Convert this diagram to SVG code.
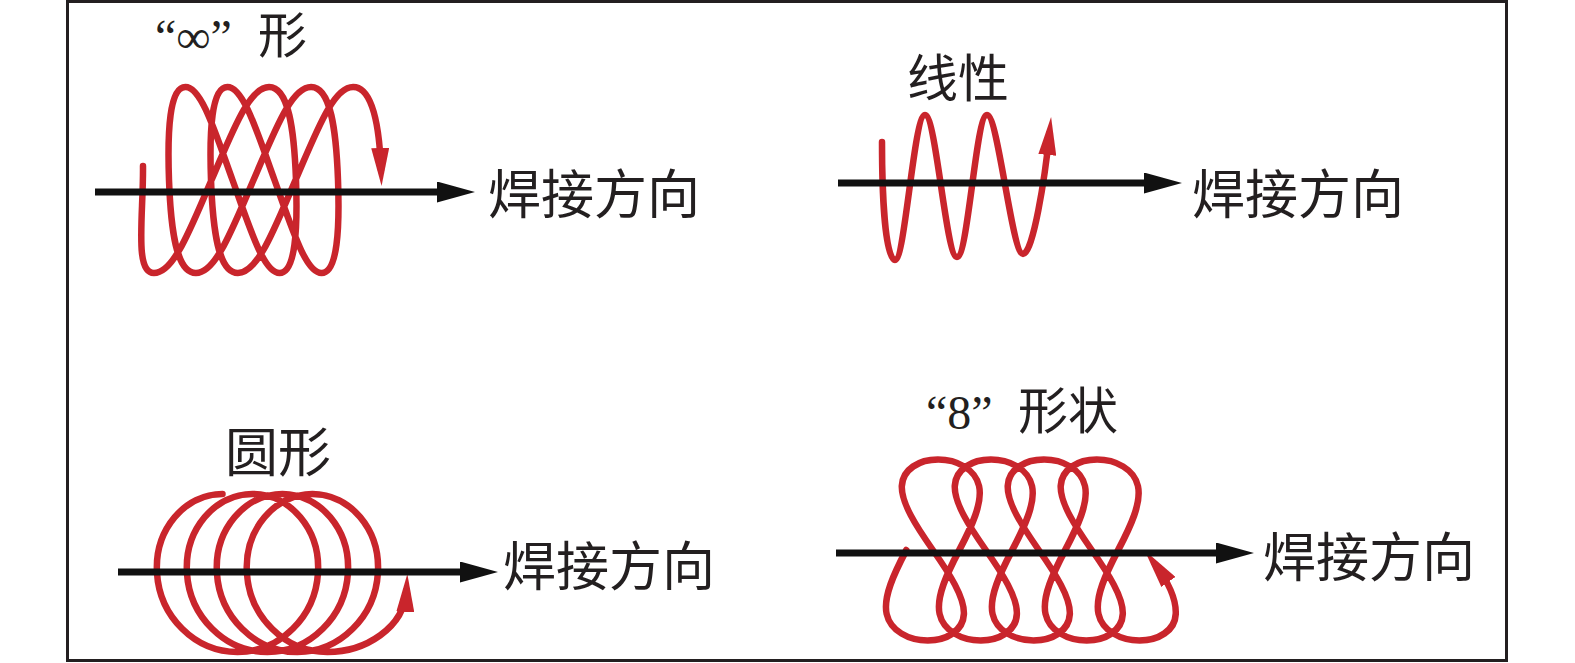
<svg xmlns="http://www.w3.org/2000/svg" width="1575" height="663" viewBox="0 0 1575 663">
<style>
.red{fill:none;stroke:#c9252c;stroke-width:6.5;stroke-linecap:round;stroke-linejoin:round;marker-end:url(#ra)}
.dir{fill:none;stroke:#111;stroke-width:7;marker-end:url(#ba)}
.cjk{font-family:"Noto Sans CJK SC",sans-serif;font-weight:400;fill:#231f20}
.lat{font-family:"Liberation Serif",serif;fill:#231f20}
.lab{font-size:53px}
</style>
<defs>
<marker id="ra" markerUnits="userSpaceOnUse" viewBox="0 0 38 18" markerWidth="38" markerHeight="18" refX="22" refY="9" orient="auto"><path d="M0,0 L38,9 L0,18 Z" fill="#c9252c"/></marker>
<marker id="ba" markerUnits="userSpaceOnUse" viewBox="0 0 38 21" markerWidth="38" markerHeight="21" refX="1" refY="10.5" orient="auto"><path d="M0,0 L38,10.5 L0,21 Z" fill="#111"/></marker>
</defs>
<rect id="frame" x="67.5" y="1.5" width="1439" height="659" fill="#fff" stroke="#231f20" stroke-width="3"/>

<g id="pattern-infinity">
<path class="red" d="M143,166 C143.5,215 134,273 153.92,273 C173.92,273 190.38,228.7 211.5,180 C232.62,131.3 249.08,87 269.08,87 C289.08,87 294.25,131.3 296,180 C297.75,228.7 295.58,273 279.58,273 C263.58,273 250.12,228.7 232.5,180 C214.88,131.3 201.42,87 185.42,87 C169.42,87 167.25,131.3 169,180 C170.75,228.7 175.92,273 195.92,273 C215.92,273 232.38,228.7 253.5,180 C274.62,131.3 291.08,87 311.08,87 C331.08,87 336.25,131.3 338,180 C339.75,228.7 337.58,273 321.58,273 C305.58,273 292.12,228.7 274.5,180 C256.88,131.3 243.42,87 227.42,87 C211.42,87 209.25,131.3 211,180 C212.75,228.7 217.92,273 237.92,273 C257.92,273 274.38,228.7 295.5,180 C316.62,131.3 333.08,87 353.08,87 C373.08,87 379.5,128 381,170"/>
<text class="lat" x="155" y="53" font-size="48">“∞”</text>
<text class="cjk" x="258" y="53" font-size="49">形</text>
</g>

<g id="pattern-linear">
<path class="red" d="M882,142 C882,190 885,260 895,260 C905,260 914,115 925,115 C936,115 946,257 957,257 C968,257 976,115 987,115 C998,115 1012,254 1023,254 C1033,254 1045,178 1049.5,133"/>
<text class="cjk" x="907" y="97" font-size="51">线性</text>
</g>

<g id="pattern-circle">
<path class="red" d="M222.5,494 C184.97,494 154.38,529.55 157,573 C159.62,616.45 194.71,652 237.48,652 C280.25,652 315.35,616.45 317.97,573 C320.59,529.55 289.99,494 252.46,494 C214.93,494 184.33,529.55 186.95,573 C189.57,616.45 224.67,652 267.44,652 C310.21,652 345.31,616.45 347.93,573 C350.55,529.55 319.95,494 282.42,494 C244.89,494 214.29,529.55 216.91,573 C219.53,616.45 254.63,652 297.4,652 C340.17,652 375.27,616.45 377.89,573 C380.51,529.55 349.91,494 312.38,494 C274.85,494 244.25,529.55 246.87,573 C249.49,616.45 284.59,652 327.36,652 C365,652 404.5,628 406.5,590"/>
<text class="cjk" x="225" y="472" font-size="53">圆形</text>
</g>

<g id="pattern-eight">
<path class="red" transform="matrix(1 0 0.0884 1 -48.62 0)" d="M906.38,550 C891.83,573.69 878.79,597.25 881,614 C883.21,630.75 900.66,640.5 919.62,640.5 C938.58,640.5 956.03,630.75 958.24,614 C960.45,597.25 947.41,573.69 932.86,550 C918.31,526.31 905.27,502.75 907.48,486 C909.69,469.25 927.14,459.5 946.1,459.5 C965.06,459.5 982.51,469.25 984.72,486 C986.93,502.75 973.89,526.31 959.34,550 C944.79,573.69 931.75,597.25 933.96,614 C936.17,630.75 953.62,640.5 972.58,640.5 C991.54,640.5 1008.99,630.75 1011.2,614 C1013.41,597.25 1000.37,573.69 985.82,550 C971.27,526.31 958.23,502.75 960.44,486 C962.65,469.25 980.1,459.5 999.06,459.5 C1018.02,459.5 1035.47,469.25 1037.68,486 C1039.89,502.75 1026.85,526.31 1012.3,550 C997.75,573.69 984.71,597.25 986.92,614 C989.13,630.75 1006.58,640.5 1025.54,640.5 C1044.5,640.5 1061.95,630.75 1064.16,614 C1066.37,597.25 1053.33,573.69 1038.78,550 C1024.23,526.31 1011.19,502.75 1013.4,486 C1015.61,469.25 1033.06,459.5 1052.02,459.5 C1070.98,459.5 1088.43,469.25 1090.64,486 C1092.85,502.75 1079.81,526.31 1065.26,550 C1050.71,573.69 1037.67,597.25 1039.88,614 C1042.09,630.75 1059.54,640.5 1078.5,640.5 C1097.46,640.5 1114.91,630.75 1117.12,614 C1119.33,597.25 1106.29,573.69 1091.74,550 C1077.19,526.31 1064.15,502.75 1066.36,486 C1068.57,469.25 1086.02,459.5 1104.98,459.5 C1123.94,459.5 1141.39,469.25 1143.6,486 C1145.81,502.75 1132.77,526.31 1118.22,550 C1103.67,573.69 1090.63,597.25 1092.84,614 C1095.05,630.75 1112.5,640.5 1131.46,640.5 C1150.42,640.5 1167.87,630.75 1170.08,614 C1172.29,597.25 1163,578 1153.4,563.6"/>
<text class="lat" x="926" y="429" font-size="48">“8”</text>
<text class="cjk" x="1018" y="429" font-size="50">形状</text>
</g>

<g id="connectors">
<path class="dir" d="M95,192 H438"/>
<path class="dir" d="M838,183 H1145"/>
<path class="dir" d="M118,572 H461"/>
<path class="dir" d="M836,553 H1217"/>
</g>

<g id="direction-labels">
<text class="cjk lab" x="488" y="214">焊接方向</text>
<text class="cjk lab" x="1192" y="214">焊接方向</text>
<text class="cjk lab" x="503" y="586">焊接方向</text>
<text class="cjk lab" x="1263" y="577">焊接方向</text>
</g>
</svg>
